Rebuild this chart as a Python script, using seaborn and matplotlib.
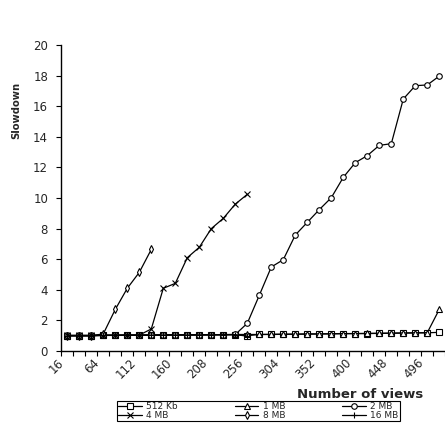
import matplotlib
matplotlib.use("Agg")
import matplotlib.pyplot as plt
import matplotlib.transforms as mtransforms
from matplotlib.lines import Line2D
import numpy as np
import pandas as pd
import seaborn as sns

# ---------------- data ----------------
categories = [16, 32, 48, 64, 80, 96, 112, 128, 144, 160, 176, 192, 208, 224, 240, 256,
              272, 288, 304, 320, 336, 352, 368, 384, 400, 416, 432, 448, 464, 480, 496, 512]

s_512kb = [1.0, 1.0, 1.0, 1.02, 1.02, 1.02, 1.03, 1.03, 1.04, 1.05, 1.05, 1.05, 1.06, 1.06, 1.07, 1.0,
           1.08, 1.08, 1.09, 1.1, 1.1, 1.11, 1.12, 1.13, 1.14, 1.14, 1.15, 1.16, 1.17, 1.18, 1.19, 1.22]
s_1mb = [1.0, 1.0, 1.0, 1.02, 1.02, 1.03, 1.03, 1.04, 1.05, 1.05, 1.05, 1.06, 1.06, 1.07, 1.08, 1.08,
         1.08, 1.09, 1.1, 1.1, 1.12, 1.12, 1.13, 1.14, 1.14, 1.15, 1.16, 1.17, 1.18, 1.19, 1.2, 2.72]
s_2mb = [1.02, 1.02, 1.02, 1.03, 1.03, 1.04, 1.04, 1.05, 1.05, 1.06, 1.06, 1.06, 1.07, 1.07, 1.08,
         1.81, 3.64, 5.49, 5.97, 7.58, 8.41, 9.24, 10.02, 11.35, 12.31, 12.77, 13.44, 13.55,
         16.47, 17.34, 17.39, 17.97]
s_4mb = [1.02, 1.02, 1.02, 1.03, 1.03, 1.04, 1.04, 1.44, 4.1, 4.42, 6.1, 6.78, 8.0, 8.67, 9.6, 10.24]
s_8mb = [1.0, 1.0, 1.0, 1.12, 2.72, 4.1, 5.14, 6.64]
s_16mb = [1.0, 1.0, 1.0, 1.02, 1.02, 1.03, 1.03, 1.04, 1.05, 1.05, 1.05, 1.06, 1.06, 1.07, 1.07, 0.97]

series_names = ["512 Kb", "1 MB", "2 MB", "4 MB", "8 MB", "16 MB"]
series_vals = [s_512kb, s_1mb, s_2mb, s_4mb, s_8mb, s_16mb]
series_markers = ["s", "^", "o", "x", "d", "+"]

rows = []
for name, vals in zip(series_names, series_vals):
    for c, v in zip(categories, vals):
        rows.append({"views": str(c), "slowdown": v, "series": name})
df = pd.DataFrame(rows)

# ---------------- style ----------------
sns.set_theme(style="white")
plt.rcParams["font.family"] = ["DejaVu Sans"]

fig = plt.figure(figsize=(4.45, 4.29), dpi=100)
ax = fig.add_axes([61.3 / 445, 78 / 429, 384 / 445, 306 / 429])

sns.pointplot(data=df, x="views", y="slowdown", hue="series",
              order=[str(c) for c in categories], hue_order=series_names,
              markers=series_markers, linestyles="-",
              palette=["black"] * 6, errorbar=None, dodge=False,
              markersize=4, linewidth=0.9, legend=False, ax=ax)

for ln in ax.lines:
    ln.set_markerfacecolor("white")
    ln.set_markeredgecolor("black")
    ln.set_markeredgewidth(0.8)

ax.set_xlim(-0.5, len(categories) - 0.5)
ax.set_ylim(0, 20)
ax.set_yticks(np.arange(0, 21, 2))
ax.set_xlabel("")
ax.set_ylabel("")

for s in ["top", "right"]:
    ax.spines[s].set_visible(False)
for s in ["left", "bottom"]:
    ax.spines[s].set_color("black")
    ax.spines[s].set_linewidth(1.0)

# x ticks: labels every 3rd category, tick marks at category boundaries
ax.set_xticks(range(len(categories)))
ax.set_xticklabels([str(c) if i % 3 == 0 else "" for i, c in enumerate(categories)],
                   rotation=45, ha="right", va="center", rotation_mode="anchor",
                   fontsize=8.5)
ax.set_xticks(np.arange(-0.5, len(categories), 1), minor=True)
ax.tick_params(axis="x", which="major", length=0, pad=7)
ax.tick_params(axis="x", which="minor", length=3.5, width=0.8, color="black", direction="out",
               bottom=True)
ax.tick_params(axis="y", which="major", length=3.5, width=0.8, color="black", direction="out",
               left=True, labelsize=8.5, pad=6)
off = mtransforms.ScaledTranslation(-4 / 72, 0, fig.dpi_scale_trans)
for lbl in ax.get_xticklabels():
    lbl.set_transform(lbl.get_transform() + off)

fig.text(360 / 445, 1 - 395 / 429, "Number of views", ha="center", va="center",
         fontweight="bold", fontsize=9.5)
fig.text(16.5 / 445, 1 - 110 / 429, "Slowdown", rotation=90, ha="center", va="center",
         fontweight="bold", fontsize=7.2)

handles = [Line2D([], [], color="black", lw=0.9, marker=m, markersize=4,
                  markerfacecolor="white", markeredgecolor="black", markeredgewidth=0.8)
           for m in series_markers]
order = [0, 3, 1, 4, 2, 5]
leg = fig.legend([handles[i] for i in order], [series_names[i] for i in order],
                 loc="center", bbox_to_anchor=(117 / 445, 1 - 420 / 429, 283 / 445, 18 / 429),
                 mode="expand", ncol=3, fontsize=6.5, frameon=True, fancybox=False,
                 edgecolor="black", framealpha=1, borderpad=0.15, labelspacing=0.0,
                 handlelength=2.6, handletextpad=0.5, borderaxespad=0)
leg.get_frame().set_linewidth(0.8)

fig.savefig("out.png", dpi=100)
